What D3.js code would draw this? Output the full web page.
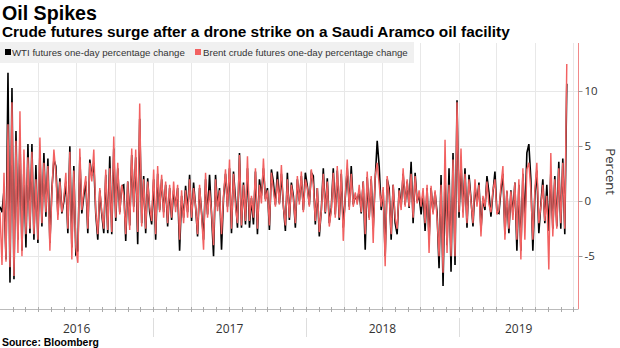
<!DOCTYPE html>
<html><head><meta charset="utf-8">
<script src="https://cdn.jsdelivr.net/npm/d3@7"></script>
<style>
body{margin:0;background:#fff;}
svg{display:block;}
</style></head><body>
<svg id="c" width="620" height="348"></svg>
<script>
const title = "Oil Spikes";
const subtitle = "Crude futures surge after a drone strike on a Saudi Aramco oil facility";
const seriesNames = ["WTI futures one-day percentage change", "Brent crude futures one-day percentage change"];
const sourceText = "Source: Bloomberg";
const axisTitle = "Percent";
const firstDay = new Date(2016, 0, 1);
const lastDay = new Date(2019, 8, 16);
const axisEnd = new Date(2019, 9, 14);
const yTicks = [-5, 0, 5, 10];
const yearLabels = ["2016", "2017", "2018", "2019"];

// one-day % changes (evenly spaced samples, Jan 2016 -> 16 Sep 2019)
const brent = [
 -1.0,-5.8,2.6,-5.5,7.0,-6.0,9.0,-6.8,5.5,-4.7,8.2,-5.0,4.7,-3.0,4.0,-2.5,4.5,-3.0,2.0,-3.5,5.8,-2.0,3.5,-1.0,3.2,-4.5,0.8,4.7,2.5,-1.7,1.8,-1.0,0.3,2.6,-2.5,4.5,-5.3,2.8,-4.2,-5.6,4.8,-0.8,1.0,2.3,-2.5,3.5,1.8,4.7,-1.0,
 -3.0,1.2,-1.0,-2.5,2.9,-2.6,3.0,-2.8,5.9,-1.5,3.5,-1.2,1.5,0.5,-3.0,1.8,-2.6,4.8,-1.0,4.7,-2.8,8.9,-2.3,2.0,-2.5,1.8,-0.5,-1.8,2.9,-3.0,3.2,-1.0,2.4,-1.5,1.8,-2.0,1.5,-1.5,1.8,-1.0,1.5,-3.5,1.0,-2.0,1.0,-1.5,2.0,-1.5,
 1.2,-0.5,-3.0,1.5,-1.2,-4.4,2.6,-1.5,1.0,-1.0,-4.0,2.0,-0.9,1.0,-3.0,0.5,2.9,-1.0,3.8,-2.5,2.5,-0.5,-2.0,4.2,-2.2,1.5,-1.8,4.1,-1.8,0.5,-1.5,3.0,-2.5,1.5,-0.2,3.9,0.0,1.0,-2.2,2.6,1.0,-0.5,2.0,-0.3,3.3,-0.5,-2.2,2.0,
 -1.5,1.5,0.2,-2.0,2.3,-0.3,2.7,-1.0,2.0,1.2,-0.5,2.9,1.5,-1.8,1.2,-2.8,-0.9,2.5,-1.0,1.8,-2.3,-0.8,2.6,-1.5,3.2,-1.5,2.9,-3.6,0.5,3.8,-0.8,2.5,-0.5,0.8,-0.3,1.5,-1.0,1.8,-3.0,2.7,-1.7,2.3,-3.8,2.3,3.5,1.5,-0.5,1.3,
 -5.9,2.3,0.5,-3.0,1.5,-1.5,-2.5,1.0,-0.8,3.0,-0.5,2.0,-0.5,2.5,-1.5,2.3,-0.2,1.0,-0.5,1.2,-2.0,1.5,-4.7,1.4,-1.2,1.0,-1.5,-5.0,1.5,-6.5,5.6,-4.7,1.5,-5.0,3.8,-5.0,9.0,-1.0,4.8,-1.5,2.5,-2.0,2.0,0.0,-2.0,2.0,-0.5,1.5,
 -3.2,0.5,-0.5,1.8,-0.3,-1.0,1.0,2.0,-1.2,-0.8,1.4,3.2,-3.5,1.0,-2.5,0.9,-1.7,1.7,-3.5,2.0,-5.3,3.0,-3.5,2.9,3.5,1.0,-3.5,1.0,3.5,-2.0,-0.5,1.5,-1.8,0.5,-6.2,4.4,-3.2,2.0,-2.5,3.0,-2.0,3.5,-2.5,12.5
];
const wti = [
 -0.5,-1.0,1.0,-5.3,11.7,-7.4,10.3,-7.1,6.4,-3.5,5.8,-4.5,3.2,-4.2,5.2,-2.9,5.2,-3.5,3.3,-3.8,4.5,-2.3,4.4,-1.4,3.9,-3.8,1.1,3.8,3.2,-1.2,2.1,-1.1,0.0,1.8,-2.9,5.0,-4.2,3.2,-4.8,-4.5,4.0,-1.1,0.5,1.8,-2.9,3.8,2.3,3.5,-1.2,
 -3.5,1.0,-1.2,-2.9,2.4,-2.9,4.1,-3.0,4.8,-1.8,3.0,-1.0,1.4,1.5,-3.6,1.8,-2.2,4.2,-0.5,4.0,-3.9,7.5,-2.0,2.3,-2.9,2.1,-1.0,-2.1,2.0,-3.5,2.5,-0.8,2.0,-1.0,1.5,-2.3,1.2,-1.7,1.0,-0.5,1.2,-4.5,0.5,-1.5,1.4,-1.0,2.4,-1.8,
 1.7,-0.5,-3.2,1.2,-1.0,-3.5,2.0,-1.2,2.4,-1.2,-5.0,2.4,-0.5,1.2,-4.4,0.3,2.5,-0.5,3.0,-2.9,2.7,0.2,-2.4,4.4,-2.4,1.7,-2.1,3.0,-2.4,0.3,-2.1,2.7,-3.0,2.0,0.5,3.0,0.2,1.2,-2.6,2.9,1.7,-0.3,2.7,-0.2,2.5,-0.4,-2.7,2.6,
 -1.7,1.7,0.5,-2.4,2.0,0.0,2.3,-0.8,2.6,1.4,-0.3,2.6,2.3,-2.1,1.2,-3.2,-0.8,3.0,-1.1,2.1,-2.0,-0.6,3.0,-1.2,2.8,-1.7,2.5,-2.4,0.3,3.0,-0.5,3.2,-0.3,0.5,0.0,1.0,-1.1,1.8,-4.4,2.2,-1.5,2.0,-2.5,2.0,5.5,3.2,-0.8,1.0,
 -5.0,2.0,1.2,-3.5,1.5,-2.0,-3.0,1.2,-0.5,2.5,-0.3,1.8,-0.6,3.6,-2.0,2.6,0.0,0.5,-1.2,0.8,-2.7,1.2,-3.5,1.2,-1.0,0.8,-1.0,-6.1,2.4,-7.7,2.3,-4.0,3.0,-6.4,4.4,-5.8,9.2,-1.5,3.5,-1.0,3.0,-2.4,2.4,0.2,-2.3,1.4,-0.2,1.7,
 -2.6,0.3,-0.8,2.3,0.8,-1.4,0.8,2.7,-1.0,-1.1,1.0,2.5,-3.0,0.9,-2.9,1.0,-1.2,1.7,-4.5,1.5,-4.5,2.5,-1.7,4.4,5.2,2.0,-4.5,0.5,2.8,-2.9,-0.3,2.0,-2.0,1.5,-2.7,2.6,-2.5,2.3,-2.3,3.6,-2.5,3.9,-3.0,10.7
];

const colors = {wti: "#000000", brent: "#f26161"};
const svg = d3.select("#c");
const font = "'Liberation Sans', Arial, sans-serif";
const plot = {left: 0, right: 578.5, top: 43, bottom: 309};

const n = brent.length;
const step = (lastDay - firstDay) / (n - 1);
const dates = d3.range(n).map(i => new Date(+firstDay + i * step));

const x = d3.scaleTime().domain([firstDay, axisEnd]).range([plot.left, plot.right]);
const y = d3.scaleLinear().domain([-9.8, 14.4]).range([plot.bottom, plot.top]);

// gridlines
const quarters = d3.timeMonth.every(3).range(d3.timeDay.offset(firstDay, 1), axisEnd);
svg.append("g").selectAll("line").data(quarters).join("line")
  .attr("x1", d => Math.round(x(d)) + 0.5).attr("x2", d => Math.round(x(d)) + 0.5)
  .attr("y1", plot.top).attr("y2", plot.bottom)
  .attr("stroke", "#e8e8e8").attr("stroke-width", 1);
svg.append("g").selectAll("line").data(yTicks).join("line")
  .attr("x1", plot.left).attr("x2", plot.right)
  .attr("y1", d => Math.round(y(d)) + 0.5).attr("y2", d => Math.round(y(d)) + 0.5)
  .attr("stroke", "#e8e8e8").attr("stroke-width", 1);

// legend
const lg = svg.append("g");
lg.append("rect").attr("x", 0).attr("y", 42).attr("width", 414).attr("height", 21).attr("fill", "#f0f0f0");
lg.append("rect").attr("x", 5).attr("y", 49).attr("width", 6).attr("height", 6).attr("fill", colors.wti);
lg.append("rect").attr("x", 195).attr("y", 49).attr("width", 6).attr("height", 6).attr("fill", colors.brent);
function fit(t, w) {
  const cur = t.node().getComputedTextLength();
  t.attr("font-size", parseFloat(t.attr("font-size")) * w / cur);
  return t;
}
fit(lg.append("text").attr("x", 12).attr("y", 56).attr("font-family", "'Liberation Sans Narrow', 'Liberation Sans', sans-serif")
  .attr("font-size", 11).attr("fill", "#333").text(seriesNames[0]), 173);
fit(lg.append("text").attr("x", 203).attr("y", 56).attr("font-family", "'Liberation Sans Narrow', 'Liberation Sans', sans-serif")
  .attr("font-size", 11).attr("fill", "#333").text(seriesNames[1]), 205);

// series
const line = d3.line().x((d, i) => x(dates[i])).y(d => y(d));
svg.append("path").datum(wti).attr("d", line).attr("fill", "none")
  .attr("stroke", colors.wti).attr("stroke-width", 1.6).attr("stroke-linejoin", "miter");
svg.append("path").datum(brent).attr("d", line).attr("fill", "none")
  .attr("stroke", colors.brent).attr("stroke-width", 1.45).attr("stroke-linejoin", "miter");

// right axis
svg.append("line").attr("x1", plot.right).attr("x2", plot.right).attr("y1", plot.top).attr("y2", plot.bottom)
  .attr("stroke", "#f08a8a").attr("stroke-width", 1);
const ya = svg.append("g");
ya.selectAll("line").data(yTicks).join("line")
  .attr("x1", plot.right).attr("x2", plot.right + 4)
  .attr("y1", d => Math.round(y(d)) + 0.5).attr("y2", d => Math.round(y(d)) + 0.5)
  .attr("stroke", "#999");
ya.selectAll("text").data(yTicks).join("text")
  .attr("x", plot.right + 6).attr("y", d => y(d) + 4)
  .attr("font-family", "'Open Sans', sans-serif").attr("font-size", 11.5).attr("fill", "#333")
  .text(d => d);
svg.append("text").attr("transform", `translate(606,${y(2.7)}) rotate(90)`)
  .attr("text-anchor", "middle").attr("font-family", "'Open Sans', sans-serif")
  .attr("font-size", 13).attr("fill", "#333").text(axisTitle);

// x axis
svg.append("line").attr("x1", plot.left).attr("x2", plot.right).attr("y1", plot.bottom + 0.5).attr("y2", plot.bottom + 0.5)
  .attr("stroke", "#bbb");
const months = d3.timeMonth.range(d3.timeDay.offset(firstDay, 1), axisEnd);
svg.append("g").selectAll("line").data(months).join("line")
  .attr("x1", d => Math.round(x(d)) + 0.5).attr("x2", d => Math.round(x(d)) + 0.5)
  .attr("y1", plot.bottom - 2).attr("y2", plot.bottom + 3).attr("stroke", "#aaa");
const years = yearLabels.map(s => new Date(+s, 0, 1));
svg.append("g").selectAll("line").data(years.slice(1)).join("line")
  .attr("x1", d => Math.round(x(d)) + 0.5).attr("x2", d => Math.round(x(d)) + 0.5)
  .attr("y1", 318).attr("y2", 337).attr("stroke", "#ddd");
svg.append("g").selectAll("text").data(years).join("text")
  .attr("x", (d, i) => (x(d) + (i < years.length - 1 ? x(years[i + 1]) : plot.right)) / 2)
  .attr("y", 333).attr("text-anchor", "middle")
  .attr("font-family", "'Open Sans', sans-serif").attr("font-size", 12).attr("fill", "#333")
  .text((d, i) => yearLabels[i]);

// titles
fit(svg.append("text").attr("x", 2).attr("y", 20).attr("font-family", font).attr("font-weight", "bold")
  .attr("font-size", 19).attr("fill", "#000").text(title), 95);
fit(svg.append("text").attr("x", 2).attr("y", 37).attr("font-family", font).attr("font-weight", "bold")
  .attr("font-size", 14).attr("fill", "#000").text(subtitle), 508);
fit(svg.append("text").attr("x", 2).attr("y", 346).attr("font-family", font).attr("font-weight", "bold")
  .attr("font-size", 10).attr("fill", "#000").text(sourceText), 97);
</script>
</body></html>
